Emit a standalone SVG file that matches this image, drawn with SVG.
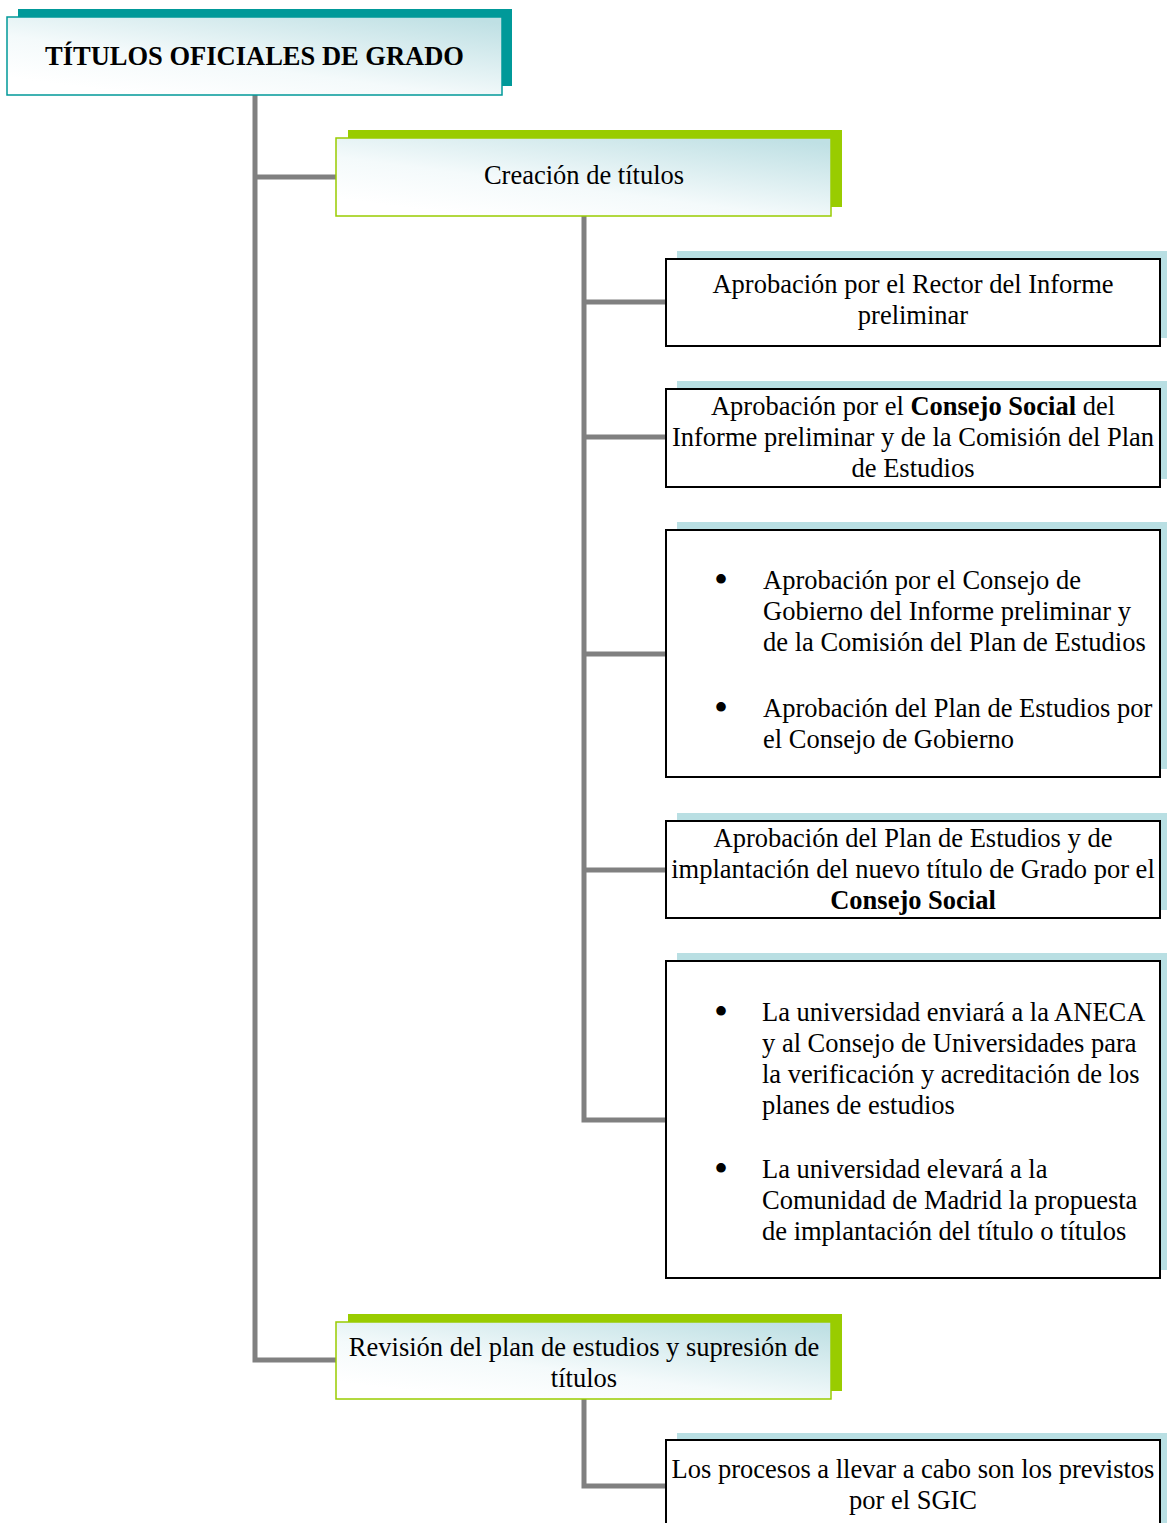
<svg xmlns="http://www.w3.org/2000/svg" width="1167" height="1523" viewBox="0 0 1167 1523">
<defs>
<linearGradient id="gfill" x1="0.15" y1="0.9" x2="0.9" y2="0">
<stop offset="0" stop-color="#ffffff"/>
<stop offset="0.35" stop-color="#f4fafb"/>
<stop offset="1" stop-color="#bfe0e4"/>
</linearGradient>
<style>
text{font-family:"Liberation Serif","Times New Roman",serif;font-size:26.5px;fill:#000}
.c{text-anchor:middle}
.b{font-weight:bold}
.bul{font-size:40px;text-anchor:middle}
.conn{fill:none;stroke:#808080;stroke-width:5}
.lshadow{fill:#b9dfe3}
.leaf{fill:#fff;stroke:#000;stroke-width:2}
.tshadow{fill:#009999}
.gshadow{fill:#99cc00}
.tbox{fill:url(#gfill);stroke:#009999;stroke-width:1.5}
.gbox{fill:url(#gfill);stroke:#99cc00;stroke-width:1.5}
</style>
</defs>
<rect width="1167" height="1523" fill="#fff"/>
<g id="connectors">
<path class="conn" d="M255 95 V1360 H336"/>
<path class="conn" d="M255 177 H336"/>
<path class="conn" d="M584 216 V1120 H666"/>
<path class="conn" d="M584 302 H666"/>
<path class="conn" d="M584 437 H666"/>
<path class="conn" d="M584 654 H666"/>
<path class="conn" d="M584 870 H666"/>
<path class="conn" d="M584 1399 V1486 H666"/>
</g>
<g id="root">
<rect class="tshadow" x="18" y="9" width="494" height="77"/>
<rect class="tbox" x="7" y="17" width="495" height="78"/>
<text class="c b" x="254.5" y="65">TÍTULOS OFICIALES DE GRADO</text>
</g>
<g id="creacion">
<rect class="gshadow" x="348" y="130" width="494" height="77"/>
<rect class="gbox" x="336" y="138" width="495" height="78"/>
<text class="c" x="584" y="184">Creación de títulos</text>
</g>
<g id="leaf1">
<rect class="lshadow" x="677" y="251" width="494" height="87"/>
<rect class="leaf" x="666" y="259" width="494" height="87"/>
<text class="c" x="913" y="293">Aprobación por el Rector del Informe</text>
<text class="c" x="913" y="324">preliminar</text>
</g>
<g id="leaf2">
<rect class="lshadow" x="677" y="381" width="494" height="98"/>
<rect class="leaf" x="666" y="389" width="494" height="98"/>
<text class="c" x="913" y="415">Aprobación por el <tspan class="b">Consejo Social</tspan> del</text>
<text class="c" x="913" y="446">Informe preliminar y de la Comisión del Plan</text>
<text class="c" x="913" y="477">de Estudios</text>
</g>
<g id="leaf3">
<rect class="lshadow" x="677" y="522" width="494" height="247"/>
<rect class="leaf" x="666" y="530" width="494" height="247"/>
<text class="bul" x="721" y="593">•</text>
<text x="763" y="589">Aprobación por el Consejo de</text>
<text x="763" y="620">Gobierno del Informe preliminar y</text>
<text x="763" y="651">de la Comisión del Plan de Estudios</text>
<text class="bul" x="721" y="721">•</text>
<text x="763" y="717">Aprobación del Plan de Estudios por</text>
<text x="763" y="748">el Consejo de Gobierno</text>
</g>
<g id="leaf4">
<rect class="lshadow" x="677" y="813" width="494" height="97"/>
<rect class="leaf" x="666" y="821" width="494" height="97"/>
<text class="c" x="913" y="847">Aprobación del Plan de Estudios y de</text>
<text class="c" x="913" y="878">implantación del nuevo título de Grado por el</text>
<text class="c b" x="913" y="909">Consejo Social</text>
</g>
<g id="leaf5">
<rect class="lshadow" x="677" y="953" width="494" height="317"/>
<rect class="leaf" x="666" y="961" width="494" height="317"/>
<text class="bul" x="721" y="1025">•</text>
<text x="762" y="1021">La universidad enviará a la ANECA</text>
<text x="762" y="1052">y al Consejo de Universidades para</text>
<text x="762" y="1083">la verificación y acreditación de los</text>
<text x="762" y="1114">planes de estudios</text>
<text class="bul" x="721" y="1182">•</text>
<text x="762" y="1178">La universidad elevará a la</text>
<text x="762" y="1209">Comunidad de Madrid la propuesta</text>
<text x="762" y="1240">de implantación del título o títulos</text>
</g>
<g id="revision">
<rect class="gshadow" x="348" y="1314" width="494" height="77"/>
<rect class="gbox" x="336" y="1322" width="495" height="77"/>
<text class="c" x="584" y="1356">Revisión del plan de estudios y supresión de</text>
<text class="c" x="584" y="1387">títulos</text>
</g>
<g id="leaf6">
<rect class="lshadow" x="677" y="1433" width="494" height="100"/>
<rect class="leaf" x="666" y="1440" width="494" height="100"/>
<text class="c" x="913" y="1478">Los procesos a llevar a cabo son los previstos</text>
<text class="c" x="913" y="1509">por el SGIC</text>
</g>
</svg>
